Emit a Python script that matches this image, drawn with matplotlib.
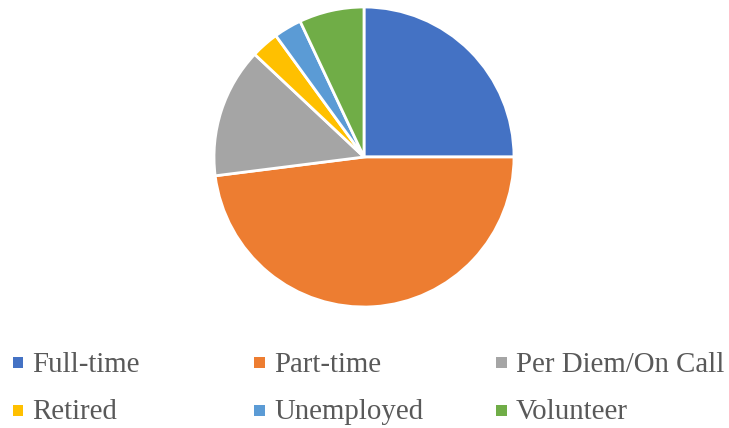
import matplotlib.pyplot as plt
from matplotlib.patches import Rectangle

labels = ["Full-time", "Part-time", "Per Diem/On Call", "Retired", "Unemployed", "Volunteer"]
values = [25, 48, 14, 3, 3, 7]
colors = ["#4472C4", "#ED7D31", "#A5A5A5", "#FFC000", "#5B9BD5", "#70AD47"]

W, H = 729, 428
fig = plt.figure(figsize=(W / 100, H / 100), dpi=100)

# pie axes: centre (364, 157) px, radius ~150 px
cx, cy, r = 364, 157, 150
ax = fig.add_axes([(cx - r) / W, (H - cy - r) / H, 2 * r / W, 2 * r / H])
ax.pie(values, colors=colors, startangle=90, counterclock=False, radius=1,
       wedgeprops=dict(edgecolor="white", linewidth=2))
ax.set_xlim(-1, 1)
ax.set_ylim(-1, 1)
ax.set_aspect("equal")
ax.axis("off")

# legend laid out like the Excel one: 3 equal columns, 2 rows
col_x = [12.7, 254.4, 496.1]
row_mid = [362.5, 410.5]
row_base = [371.7, 419.0]
box = 10.7
for i, (lab, col) in enumerate(zip(labels, colors)):
    c, rw = i % 3, i // 3
    x0 = col_x[c]
    y0 = row_mid[rw]
    fig.add_artist(Rectangle((x0 / W, (H - y0 - box / 2) / H), box / W, box / H,
                             transform=fig.transFigure, facecolor=col, edgecolor="none"))
    fig.text((x0 + 19.7) / W, (H - row_base[rw]) / H, lab, fontsize=20.8,
             family="Liberation Serif", color="#595959", ha="left", va="baseline")

fig.savefig("out.png", dpi=100)
